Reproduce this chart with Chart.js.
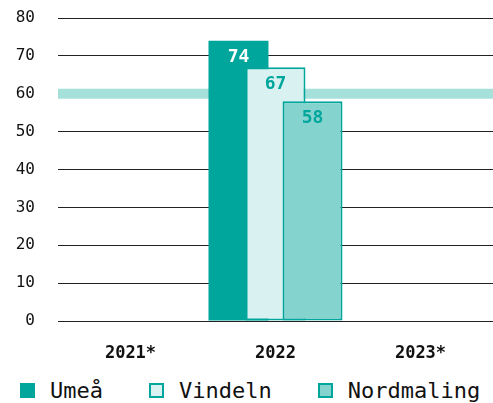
<!DOCTYPE html>
<html>
<head>
<meta charset="utf-8">
<script src="https://cdn.jsdelivr.net/npm/chart.js@4"></script>
<style>
  body { margin: 0; background: #fff; }
  #wrap { position: relative; width: 493px; height: 370px; }
  #legend { position: absolute; top: 378px; left: 20px; display: flex; align-items: center;
            font-family: "DejaVu Sans Mono", monospace; font-size: 22px; color: #111; }
  #legend .item { display: flex; align-items: center; margin-right: 46px; }
  #legend .box { display: inline-block; width: 15px; height: 15px; box-sizing: border-box; margin-right: 15px; }
</style>
</head>
<body>
<div id="wrap"><canvas id="chart"></canvas></div>
<div id="legend"></div>
<script>
var years = ["2021*", "2022", "2023*"];
var umea = [null, 74, null];
var vindeln = [null, 67, null];
var nordmaling = [null, 58, null];
var yTicks = [0, 10, 20, 30, 40, 50, 60, 70, 80];
var targetValue = 60;

var teal = '#00a69c';
var mono = '"DejaVu Sans Mono", monospace';

// band at the target value, then bars left to right so the later ones overlap,
// then the value labels on top
var overlapBars = {
    id: 'overlapBars',
    beforeDatasetsDraw: function (chart) {
        var area = chart.chartArea;
        var c = chart.ctx;
        var y = chart.scales.y.getPixelForValue(targetValue);
        c.save();
        c.strokeStyle = '#a6e0da';
        c.lineWidth = 10;
        c.beginPath();
        c.moveTo(area.left, y);
        c.lineTo(area.right, y);
        c.stroke();
        c.restore();

        var metas = chart.getSortedVisibleDatasetMetas();
        metas.forEach(function (meta) { meta.controller.draw(); });

        c.save();
        c.font = 'bold 18px ' + mono;
        c.textAlign = 'center';
        c.textBaseline = 'middle';
        metas.forEach(function (meta) {
            var ds = chart.data.datasets[meta.index];
            meta.data.forEach(function (bar, j) {
                if (ds.data[j] == null) return;
                c.fillStyle = ds.labelColor;
                c.fillText(ds.data[j], bar.x, bar.y + 17);
            });
        });
        c.restore();
        return false;
    }
};

var ctx = document.getElementById('chart').getContext('2d');
var chart = new Chart(ctx, {
    type: 'bar',
    data: {
        labels: years,
        datasets: [{
            label: 'Umeå',
            data: umea,
            backgroundColor: teal,
            borderColor: teal,
            borderWidth: 0,
            labelColor: '#fff'
        },
        {
            label: 'Vindeln',
            data: vindeln,
            backgroundColor: '#d9f1f1',
            borderColor: teal,
            borderWidth: 2,
            borderSkipped: false,
            labelColor: teal
        },
        {
            label: 'Nordmaling',
            data: nordmaling,
            backgroundColor: '#85d3ce',
            borderColor: teal,
            borderWidth: 2,
            borderSkipped: false,
            labelColor: teal
        }]
    },
    options: {
        responsive: true,
        maintainAspectRatio: false,
        animation: false,
        categoryPercentage: 0.766,
        barPercentage: 1.62,
        layout: { padding: { left: 0, top: 18, right: 0, bottom: 0 } },
        scales: {
            x: {
                border: { display: false },
                grid: { display: false, drawTicks: false },
                afterFit: function (scale) { scale.height = 49; },
                ticks: {
                    color: '#111',
                    padding: 22,
                    maxRotation: 0,
                    font: { family: mono, size: 17, weight: 'bold' }
                }
            },
            y: {
                min: 0,
                max: 80,
                border: { display: false },
                grid: { color: '#222', drawTicks: false },
                afterFit: function (scale) {
                    scale.width = 58;
                    scale.paddingTop = 0;
                    scale.paddingBottom = 0;
                },
                afterBuildTicks: function (scale) {
                    scale.ticks = yTicks.map(function (v) { return { value: v }; });
                },
                ticks: {
                    color: '#111',
                    padding: 23,
                    font: { family: mono, size: 16 }
                }
            }
        },
        plugins: {
            legend: { display: false },
            tooltip: { enabled: false }
        }
    },
    plugins: [overlapBars]
});

var legend = document.getElementById('legend');
chart.data.datasets.forEach(function (ds) {
    legend.innerHTML +=
        '<span class="item"><span class="box" style="background:' + ds.backgroundColor +
        ';border:' + (ds.borderWidth ? '2px solid ' + ds.borderColor : 'none') + '"></span>' +
        ds.label + '</span>';
});
</script>
</body>
</html>
